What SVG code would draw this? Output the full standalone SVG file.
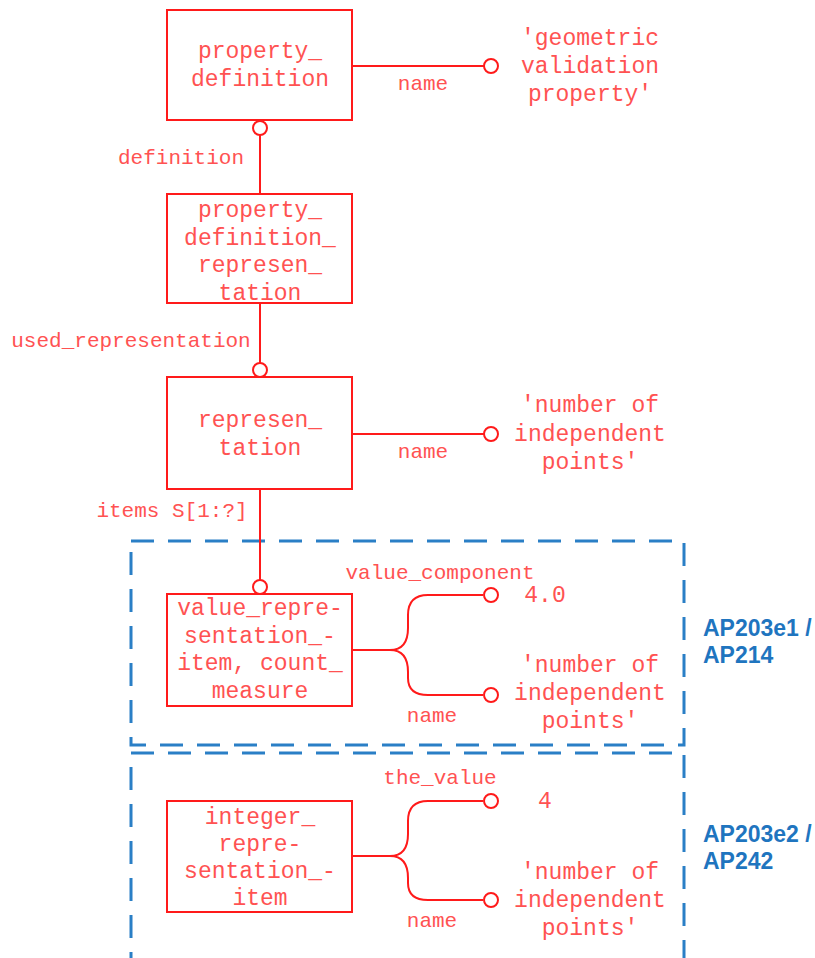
<svg xmlns="http://www.w3.org/2000/svg" width="815" height="958" viewBox="0 0 815 958">
<style>
.box{fill:#ffffff;stroke:#ff1a1a;stroke-width:2}
.ln{fill:none;stroke:#ff1a1a;stroke-width:2}
.cir{fill:#ffffff;stroke:#ff1a1a;stroke-width:2}
.bt{font-family:"Liberation Mono","Courier New",monospace;font-size:23px;fill:#ff5252;text-anchor:middle}
.lb{font-family:"Liberation Mono","Courier New",monospace;font-size:21px;fill:#ff5252;text-anchor:middle}
.grp{fill:none;stroke:#2a7fc6;stroke-width:3;stroke-dasharray:23 14}
.ap{font-family:"Liberation Sans",Arial,sans-serif;font-size:23px;font-weight:bold;fill:#1f75bf}
</style>
<rect width="815" height="958" fill="#ffffff"/>
<g id="groups">
<rect class="grp" x="131" y="541" width="553" height="204"/>
<path class="grp" d="M131,975 V753 H684 V975"/>
</g>
<g id="connectors">
<line class="ln" x1="352" y1="66" x2="484" y2="66"/>
<line class="ln" x1="260" y1="135" x2="260" y2="194"/>
<line class="ln" x1="260" y1="303" x2="260" y2="363"/>
<line class="ln" x1="352" y1="434" x2="484" y2="434"/>
<line class="ln" x1="260" y1="489" x2="260" y2="580"/>
<path class="ln" d="M352,650 H390 C402,650 408,642 408,628 V615 C408,602 415,595 428,595 H483"/>
<path class="ln" d="M390,650 C402,650 408,658 408,672 V678 C408,689 415,695 428,695 H483"/>
<path class="ln" d="M352,856 H390 C402,856 408,848 408,834 V821 C408,808 415,801 428,801 H483"/>
<path class="ln" d="M390,856 C402,856 408,864 408,878 V883 C408,894 415,900 428,900 H483"/>
<circle class="cir" cx="491" cy="66" r="7"/>
<circle class="cir" cx="260" cy="128" r="7"/>
<circle class="cir" cx="260" cy="370" r="7"/>
<circle class="cir" cx="491" cy="434" r="7"/>
<circle class="cir" cx="260" cy="587" r="7"/>
<circle class="cir" cx="491" cy="595" r="7"/>
<circle class="cir" cx="491" cy="695" r="7"/>
<circle class="cir" cx="491" cy="801" r="7"/>
<circle class="cir" cx="491" cy="900" r="7"/>
<text class="lb" x="423" y="90">name</text>
<text class="lb" x="181" y="164">definition</text>
<text class="lb" x="131" y="347">used_representation</text>
<text class="lb" x="423" y="458">name</text>
<text class="lb" x="172" y="517">items S[1:?]</text>
<text class="lb" x="440" y="579">value_component</text>
<text class="lb" x="432" y="722">name</text>
<text class="lb" x="440" y="784">the_value</text>
<text class="lb" x="432" y="927">name</text>
</g>
<g id="property_definition">
<rect class="box" x="167" y="10" width="185" height="110"/>
<text class="bt" x="260" y="58">property_</text>
<text class="bt" x="260" y="86">definition</text>
</g>
<g id="property_definition_representation">
<rect class="box" x="167" y="194" width="185" height="109"/>
<text class="bt" x="260" y="217">property_</text>
<text class="bt" x="260" y="245">definition_</text>
<text class="bt" x="260" y="272">represen_</text>
<text class="bt" x="260" y="300">tation</text>
</g>
<g id="representation">
<rect class="box" x="167" y="377" width="185" height="112"/>
<text class="bt" x="260" y="427">represen_</text>
<text class="bt" x="260" y="455">tation</text>
</g>
<g id="value_representation_item">
<rect class="box" x="167" y="594" width="185" height="112"/>
<text class="bt" x="260" y="615">value_repre-</text>
<text class="bt" x="260" y="643">sentation_-</text>
<text class="bt" x="260" y="670">item, count_</text>
<text class="bt" x="260" y="698">measure</text>
</g>
<g id="integer_representation_item">
<rect class="box" x="167" y="801" width="185" height="111"/>
<text class="bt" x="260" y="824">integer_</text>
<text class="bt" x="260" y="851">repre-</text>
<text class="bt" x="260" y="878">sentation_-</text>
<text class="bt" x="260" y="905">item</text>
</g>
<g id="value_geometric">
<text class="bt" x="590" y="45">'geometric</text>
<text class="bt" x="590" y="73">validation</text>
<text class="bt" x="590" y="101">property'</text>
</g>
<g id="value_rep_name">
<text class="bt" x="590" y="412">'number of</text>
<text class="bt" x="590" y="441">independent</text>
<text class="bt" x="590" y="469">points'</text>
</g>
<g id="value_4_0">
<text class="bt" x="545" y="602">4.0</text>
</g>
<g id="value_vri_name">
<text class="bt" x="590" y="672">'number of</text>
<text class="bt" x="590" y="700">independent</text>
<text class="bt" x="590" y="728">points'</text>
</g>
<g id="value_4">
<text class="bt" x="545" y="808">4</text>
</g>
<g id="value_iri_name">
<text class="bt" x="590" y="879">'number of</text>
<text class="bt" x="590" y="907">independent</text>
<text class="bt" x="590" y="935">points'</text>
</g>
<g id="labels_ap">
<text class="ap" x="703" y="636">AP203e1 /</text>
<text class="ap" x="703" y="663">AP214</text>
<text class="ap" x="703" y="842">AP203e2 /</text>
<text class="ap" x="703" y="869">AP242</text>
</g>
</svg>
